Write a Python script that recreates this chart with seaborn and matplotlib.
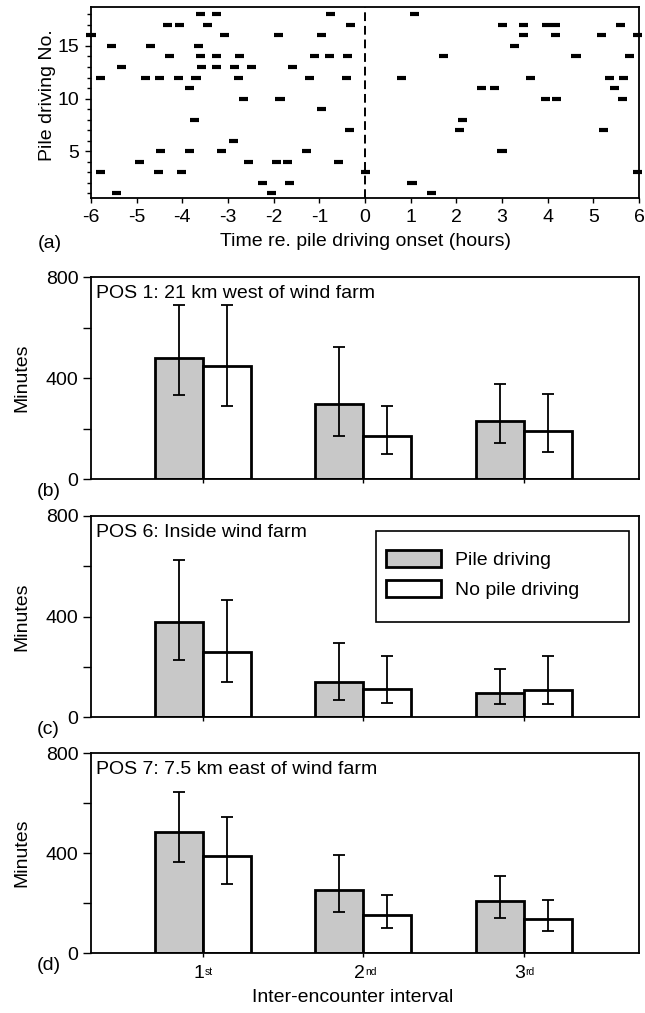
import numpy as np
import pandas as pd
import matplotlib
matplotlib.use("Agg")
import matplotlib.pyplot as plt
import matplotlib.transforms as mtransforms
from matplotlib.patches import Patch, Rectangle
from matplotlib.ticker import MultipleLocator
import seaborn as sns

# ---------------------------------------------------------------- data
# (a) encounters around each pile-driving event: pile number and time (h)
enc_pile = (
    [18] * 4 + [17] * 9 + [16] * 8 + [15] * 4 + [14] * 10 + [13] * 6
    + [12] * 12 + [11] * 4 + [10] * 5 + [9] * 1 + [8] * 2 + [7] * 3
    + [6] * 1 + [5] * 5 + [4] * 5 + [3] * 5 + [2] * 3 + [1] * 3
)
enc_hours = [
    -3.60, -3.25, -0.75, 1.08,                                        # 18
    -4.33, -4.07, -3.45, -0.31, 3.02, 3.47, 3.98, 4.18, 5.60,         # 17
    -6.00, -3.08, -1.90, -0.95, 3.48, 4.18, 5.17, 5.97,               # 16
    -5.55, -4.70, -3.64, 3.28,                                        # 15
    -4.29, -3.60, -3.26, -2.75, -1.11, -0.78, -0.38, 1.72, 4.62, 5.80,  # 14
    -5.33, -3.58, -3.25, -2.86, -2.48, -1.58,                         # 13
    -5.79, -4.80, -4.50, -4.08, -3.70, -2.77, -1.22, -0.40, 0.79,
    3.62, 5.36, 5.66,                                                 # 12
    -3.85, 2.55, 2.83, 5.47,                                          # 11
    -2.67, -1.86, 3.96, 4.20, 5.63,                                   # 10
    -0.96,                                                            # 9
    -3.74, 2.14,                                                      # 8
    -0.34, 2.06, 5.23,                                                # 7
    -2.88,                                                            # 6
    -4.47, -3.85, -3.14, -1.28, 3.00,                                 # 5
    -4.94, -2.56, -1.94, -1.70, -0.58,                                # 4
    -5.80, -4.52, -4.02, 0.01, 5.97,                                  # 3
    -2.25, -1.66, 1.03,                                               # 2
    -5.44, -2.05, 1.46,                                               # 1
]
dash_len = 0.2  # hours

# (b)-(d) inter-encounter intervals (minutes): mean with lower/upper bounds
intervals = ["1st", "2nd", "3rd"]
interval_num = ["1", "2", "3"]
interval_sup = ["st", "nd", "rd"]
conditions = ["Pile driving", "No pile driving"]

pos1_pd = [480, 297, 231]
pos1_pd_lo = [333, 171, 144]
pos1_pd_hi = [691, 521, 378]
pos1_npd = [446, 171, 192]
pos1_npd_lo = [288, 100, 108]
pos1_npd_hi = [691, 288, 338]

pos6_pd = [377, 140, 97]
pos6_pd_lo = [228, 68, 51]
pos6_pd_hi = [624, 293, 193]
pos6_npd = [258, 112, 108]
pos6_npd_lo = [140, 55, 51]
pos6_npd_hi = [464, 242, 242]

pos7_pd = [484, 253, 208]
pos7_pd_lo = [363, 163, 141]
pos7_pd_hi = [644, 392, 308]
pos7_npd = [387, 153, 137]
pos7_npd_lo = [276, 100, 89]
pos7_npd_hi = [544, 233, 212]

panels = [
    ("(b)", "POS 1: 21 km west of wind farm",
     pos1_pd, pos1_pd_lo, pos1_pd_hi, pos1_npd, pos1_npd_lo, pos1_npd_hi),
    ("(c)", "POS 6: Inside wind farm",
     pos6_pd, pos6_pd_lo, pos6_pd_hi, pos6_npd, pos6_npd_lo, pos6_npd_hi),
    ("(d)", "POS 7: 7.5 km east of wind farm",
     pos7_pd, pos7_pd_lo, pos7_pd_hi, pos7_npd, pos7_npd_lo, pos7_npd_hi),
]

# ---------------------------------------------------------------- style
sns.set_theme(style="ticks")
plt.rcParams["font.family"] = ["Liberation Sans", "DejaVu Sans"]
plt.rcParams.update({
    "axes.unicode_minus": False,
    "axes.linewidth": 1.3,
    "axes.edgecolor": "black",
    "xtick.color": "black",
    "ytick.color": "black",
    "xtick.direction": "out",
    "ytick.direction": "out",
    "xtick.major.width": 1.0,
    "ytick.major.width": 1.0,
    "ytick.minor.width": 1.0,
    "text.color": "black",
    "axes.labelcolor": "black",
})

FS = 14
W, H = 645, 1013
fig = plt.figure(figsize=(W / 100, H / 100), dpi=100)


def axes_px(left, top, right, bottom):
    return fig.add_axes([left / W, 1 - bottom / H, (right - left) / W,
                         (bottom - top) / H])


grey = "#c8c8c8"

# ---------------------------------------------------------------- (a)
ax_a = axes_px(91, 7, 639, 198)
t = np.asarray(enc_hours)
ax_a.hlines(enc_pile, t - dash_len / 2, t + dash_len / 2, colors="black",
            linewidth=3.0, clip_on=False, zorder=3)
ax_a.axvline(0, color="black", linewidth=1.4, linestyle=(0, (4.5, 2.5)),
             zorder=2)
ax_a.set_xlim(-6, 6)
ax_a.set_ylim(0.55, 18.7)
ax_a.set_xticks(range(-6, 7))
ax_a.set_yticks([5, 10, 15])
ax_a.yaxis.set_minor_locator(MultipleLocator(1))
ax_a.tick_params(axis="x", which="major", length=3.5, labelsize=FS, pad=4.5)
ax_a.tick_params(axis="y", which="major", length=4.5, labelsize=FS, pad=4)
ax_a.tick_params(axis="y", which="minor", length=3.2)
ax_a.set_xlabel("Time re. pile driving onset (hours)", fontsize=FS)
ax_a.xaxis.set_label_coords(0.5, -0.183)
ax_a.set_ylabel("Pile driving No.", fontsize=FS)
ax_a.yaxis.set_label_coords(-0.063, 0.54)
fig.text(38 / W, 1 - 244 / H, "(a)", fontsize=FS, va="center", ha="left")

# ---------------------------------------------------------------- (b)-(d)
tops = [277, 516, 753]
bottoms = [479, 717, 953]

for k, (tag, title, pd_v, pd_lo, pd_hi, npd_v, npd_lo, npd_hi) in enumerate(panels):
    ax = axes_px(91, tops[k], 639, bottoms[k])
    df = pd.DataFrame({
        "interval": intervals * 2,
        "condition": [conditions[0]] * 3 + [conditions[1]] * 3,
        "minutes": list(pd_v) + list(npd_v),
    })
    sns.barplot(data=df, x="interval", y="minutes", hue="condition",
                order=intervals, hue_order=conditions,
                palette={conditions[0]: grey, conditions[1]: "white"},
                edgecolor="black", linewidth=2.0, width=0.6,
                errorbar=None, legend=False, saturation=1, ax=ax)
    for cont, vals, lo, hi in zip(ax.containers, [pd_v, npd_v],
                                  [pd_lo, npd_lo], [pd_hi, npd_hi]):
        xc = [b.get_x() + b.get_width() / 2 for b in cont]
        v = np.asarray(vals)
        ax.errorbar(xc, v, yerr=[v - np.asarray(lo), np.asarray(hi) - v],
                    fmt="none", ecolor="black", elinewidth=1.3, capsize=4.5,
                    capthick=1.3, zorder=5)
    ax.set_xlim(-0.70, 2.72)
    ax.set_ylim(0, 800)
    ax.set_yticks([0, 400, 800])
    ax.yaxis.set_minor_locator(MultipleLocator(200))
    ax.tick_params(axis="y", which="both", length=6.0, labelsize=FS, pad=3)
    ax.tick_params(axis="x", which="major", length=3.2)
    ax.set_ylabel("Minutes", fontsize=FS)
    ax.yaxis.set_label_coords(-0.11, 0.5)
    ax.text(0.009, 0.962, title, transform=ax.transAxes, fontsize=FS,
            ha="left", va="top")
    fig.text(37 / W, 1 - (bottoms[k] + 12) / H, tag, fontsize=FS,
             va="center", ha="left")
    ax.set_xticks(range(3))
    ax.set_xticklabels([])
    if k < 2:
        ax.set_xlabel("")
    else:
        # ordinal tick labels with a small raised suffix
        trans = mtransforms.blended_transform_factory(ax.transData,
                                                      ax.transAxes)
        for i, (num, sup) in enumerate(zip(interval_num, interval_sup)):
            ax.text(i, 0, num, fontsize=FS, ha="right", va="top",
                    transform=mtransforms.offset_copy(trans, fig=fig,
                                                      x=1.0, y=-8.5,
                                                      units="points"))
            ax.text(i, 0, sup, fontsize=7.5, ha="left", va="top",
                    transform=mtransforms.offset_copy(trans, fig=fig,
                                                      x=1.0, y=-9.8,
                                                      units="points"))
        ax.set_xlabel("Inter-encounter interval", fontsize=FS)
        ax.xaxis.set_label_coords(0.478, -0.18)
    if k == 1:
        handles = [Patch(facecolor=grey, edgecolor="black", linewidth=2.0,
                         label=conditions[0]),
                   Patch(facecolor="white", edgecolor="black", linewidth=2.0,
                         label=conditions[1])]
        ax.legend(handles=handles, loc="upper left",
                  bbox_to_anchor=((386 - 91) / 548, 1 - (550 - 516) / 201),
                  fontsize=FS, frameon=False, borderpad=0,
                  handlelength=2.84, handleheight=1.0,
                  labelspacing=0.55, handletextpad=0.7, borderaxespad=0)
        ax.add_patch(Rectangle(((376 - 91) / 548, 1 - (621.7 - 516) / 201),
                               (629 - 376) / 548, (621.7 - 530.7) / 201,
                               transform=ax.transAxes, facecolor="none",
                               edgecolor="black", linewidth=1.2,
                               zorder=6))

fig.savefig("out.png", dpi=100)
